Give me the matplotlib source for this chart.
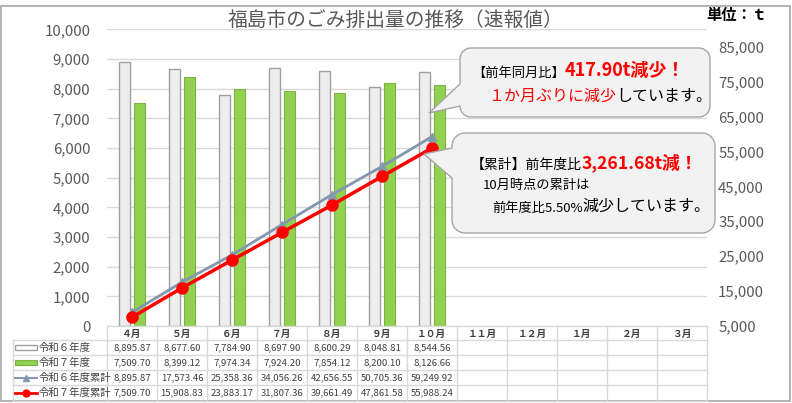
import numpy as np
import matplotlib
matplotlib.use("Agg")
import matplotlib.pyplot as plt
from matplotlib.transforms import Affine2D
from matplotlib.patches import Polygon, Rectangle
from matplotlib.lines import Line2D
from matplotlib.text import Annotation

plt.rcParams['font.family'] = ['Noto Sans CJK JP', 'DejaVu Sans']

# ---------------- data ----------------
months = ['４月', '５月', '６月', '７月', '８月', '９月', '１０月',
          '１１月', '１２月', '１月', '２月', '３月']
series_labels = ['令和６年度', '令和７年度', '令和６年度累計', '令和７年度累計']
r6 = [8895.87, 8677.60, 7784.90, 8697.90, 8600.29, 8048.81, 8544.56]
r7 = [7509.70, 8399.12, 7974.34, 7924.20, 7854.12, 8200.10, 8126.66]
r6_cum = [8895.87, 17573.46, 25358.36, 34056.26, 42656.55, 50705.36, 59249.92]
r7_cum = [7509.70, 15908.83, 23883.17, 31807.36, 39661.49, 47861.58, 55988.24]
left_ticks = [0, 1000, 2000, 3000, 4000, 5000, 6000, 7000, 8000, 9000, 10000]
right_ticks = [5000, 15000, 25000, 35000, 45000, 55000, 65000, 75000, 85000]

title = '福島市のごみ排出量の推移（速報値）'
unit = '単位：ｔ'

W, H = 792, 403
fig = plt.figure(figsize=(W / 100, H / 100), dpi=100)
fig.patch.set_facecolor('white')
# pixel transform (origin top-left)
T = Affine2D().scale(1 / W, -1 / H).translate(0, 1) + fig.transFigure

GRID = '#d9d9d9'
TXT = '#595959'
GRAYBAR = '#eeeeee'
GRAYEDGE = '#a0a0a0'
GREEN = '#92d050'
GREENEDGE = '#7cb342'
BLUE = '#8497b0'
RED = '#ff0000'

# ---------------- axes ----------------
x0p, x1p, ytop, ybot = 107, 707, 29.3, 326
ax = fig.add_axes([x0p / W, 1 - ybot / H, (x1p - x0p) / W, (ybot - ytop) / H])
ax.set_facecolor('none')
n = len(months)
ax.set_xlim(-0.5, n - 0.5)
ax.set_ylim(0, 10000)
ax.set_yticks(left_ticks)
ax.set_yticklabels([f'{v:,}' for v in left_ticks])
ax.tick_params(axis='y', length=0, pad=12, labelsize=10.8, labelcolor=TXT)
ax.set_xticks([])
for s in ax.spines.values():
    s.set_visible(False)
ax.yaxis.grid(True, color=GRID, lw=1)
ax.set_axisbelow(True)

idx = np.arange(len(r6))
bw = 0.22
off = 0.145
ax.bar(idx - off, r6, width=bw, color=GRAYBAR, edgecolor=GRAYEDGE, lw=1.0, zorder=2)
ax.bar(idx + off, r7, width=bw, color=GREEN, edgecolor=GREENEDGE, lw=0.8, zorder=2)

ax2 = ax.twinx()
ax2.set_ylim(5000, 90000)
ax2.set_yticks(right_ticks)
ax2.set_yticklabels([f'{v:,}' for v in right_ticks])
ax2.tick_params(axis='y', length=0, pad=8, labelsize=10.8, labelcolor=TXT)
for s in ax2.spines.values():
    s.set_visible(False)
ax2.plot(idx, r6_cum, color=BLUE, lw=2, marker='^', ms=6, zorder=3)
ax2.plot(idx, r7_cum, color=RED, lw=2.5, marker='o', ms=8, zorder=4)

# ---------------- title / unit ----------------
fig.text(395 / W, 1 - 20 / H, title, ha='center', va='center', fontsize=14.2, color=TXT)
fig.text(737 / W, 1 - 15 / H, unit, ha='center', va='center', fontsize=11,
         color='black', fontweight='bold')

# ---------------- data table ----------------
tcol = '#d9d9d9'
rows_y = [326, 340, 355, 370, 385, 401]
fig.add_artist(Line2D([107, 707], [326, 326], transform=T, color=tcol, lw=1))
for yy in rows_y[1:]:
    fig.add_artist(Line2D([13, 707], [yy, yy], transform=T, color=tcol, lw=1))
for k in range(n + 1):
    xx = 107 + 50 * k
    fig.add_artist(Line2D([xx, xx], [326, 401], transform=T, color=tcol, lw=1))
fig.add_artist(Line2D([13, 13], [340, 401], transform=T, color=tcol, lw=1))

for k, m in enumerate(months):
    fig.text((132 + 50 * k) / W, 1 - 333.5 / H, m, ha='center', va='center',
             fontsize=7, color='#404040', fontweight='bold')

table_data = [r6, r7, r6_cum, r7_cum]
for r, vals in enumerate(table_data):
    yc = (rows_y[r + 1] + rows_y[r + 2]) / 2
    for k, v in enumerate(vals):
        fig.text((132 + 50 * k) / W, 1 - yc / H, f'{v:,.2f}', ha='center', va='center',
                 fontsize=6.9, color='#404040')
    fig.text(39 / W, 1 - yc / H, series_labels[r], ha='left', va='center',
             fontsize=7.5, color='#404040')

kc = [(rows_y[i] + rows_y[i + 1]) / 2 for i in range(1, 5)]
fig.add_artist(Rectangle((15, kc[0] - 2.5), 22, 5, transform=T, facecolor='white',
                         edgecolor=GRAYEDGE, lw=1))
fig.add_artist(Rectangle((15, kc[1] - 2.5), 22, 5, transform=T, facecolor=GREEN,
                         edgecolor=GREENEDGE, lw=0.8))
fig.add_artist(Line2D([15, 26, 37], [kc[2]] * 3, transform=T, color=BLUE, lw=1.5,
                      marker='^', ms=4, markevery=[1]))
fig.add_artist(Line2D([15, 26, 37], [kc[3]] * 3, transform=T, color=RED, lw=2,
                      marker='o', ms=5, markevery=[1]))

# ---------------- callouts ----------------
def callout(x0, y0, x1, y1, r, by0, by1, tip):
    pts = []
    def arc(cx, cy, a0, a1):
        for a in np.linspace(a0, a1, 10):
            pts.append((cx + r * np.cos(a), cy + r * np.sin(a)))
    arc(x0 + r, y0 + r, np.pi, 1.5 * np.pi)
    arc(x1 - r, y0 + r, 1.5 * np.pi, 2 * np.pi)
    arc(x1 - r, y1 - r, 0, 0.5 * np.pi)
    arc(x0 + r, y1 - r, 0.5 * np.pi, np.pi)
    pts.append((x0, by1))
    pts.append(tip)
    pts.append((x0, by0))
    return Polygon(pts, closed=True, transform=T, facecolor='#f2f2f2',
                   edgecolor='#a6a6a6', lw=1, zorder=10)

fig.add_artist(callout(460, 48, 710, 117, 11, 84, 106, (429, 113)))
fig.add_artist(callout(452, 133, 715, 233, 13, 148, 178, (424, 154)))

def chain(x, y, pieces):
    t = fig.text(x / W, 1 - y / H, pieces[0][0], ha='left', va='baseline',
                 fontsize=pieces[0][1], color=pieces[0][2],
                 fontweight=pieces[0][3], zorder=11)
    prev = t
    for txt, fs, col, fw in pieces[1:]:
        a = Annotation(txt, xy=(1, 0), xycoords=prev, ha='left', va='bottom',
                       fontsize=fs, color=col, fontweight=fw, annotation_clip=False)
        a.set_zorder(11)
        fig.add_artist(a)
        prev = a
    return t

chain(472, 77, [('【前年同月比】', 9.5, 'black', 'normal'),
                ('417.90t減少！', 13, RED, 'bold')])
chain(488, 101, [('１か月ぶりに減少', 11.5, RED, 'normal'),
                 ('しています。', 11.5, 'black', 'normal')])
chain(471, 169, [('【累計】前年度比', 10, 'black', 'normal'),
                 ('3,261.68t減！', 12.7, RED, 'bold')])
chain(483, 189, [('10月時点の累計は', 9.5, 'black', 'normal')])
chain(492, 212, [('前年度比5.50%', 9.5, 'black', 'normal'),
                 ('減少しています。', 11.5, 'black', 'normal')])

fig.add_artist(Rectangle((1, 6), 789, 395, transform=T, facecolor='none',
                         edgecolor='#a6a6a6', lw=1.2))

fig.savefig('out.png', dpi=100)
